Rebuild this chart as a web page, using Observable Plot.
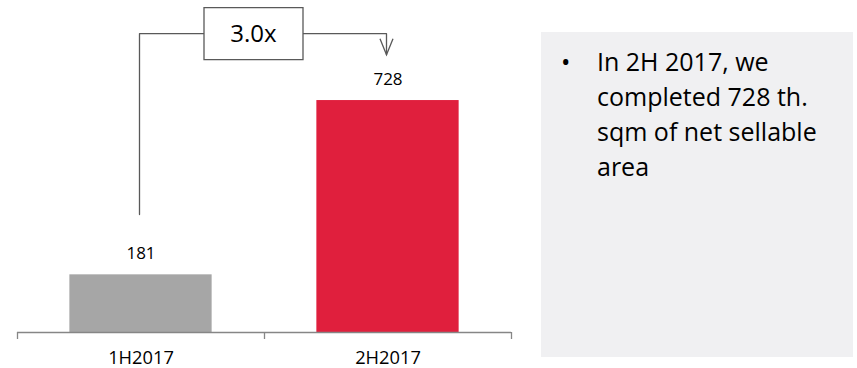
<!DOCTYPE html>
<html>
<head>
<meta charset="utf-8">
<script src="https://cdn.jsdelivr.net/npm/d3@7"></script>
<script src="https://cdn.jsdelivr.net/npm/@observablehq/plot@0.6"></script>
<style>
  html, body { margin: 0; padding: 0; background: #fff; }
  #wrap { position: relative; width: 857px; height: 368px; font-family: "Open Sans", sans-serif; }
  #chart { position: absolute; left: 0; top: 0; }
  #note {
    position: absolute; left: 541px; top: 32px; width: 312px; height: 325px;
    background: #f0f0f2; box-sizing: border-box; padding: 12px 0 0 56px;
    font-size: 25px; line-height: 35px; color: #000;
  }
  #note .bullet { position: absolute; left: 20px; }
  #note .line { white-space: nowrap; }
</style>
</head>
<body>
<div id="wrap">
  <div id="chart"></div>
  <div id="note"></div>
</div>
<script>
// Completed net sellable area, thousand sqm
const periods = ["1H2017", "2H2017"];
const completed = [181, 728];
const barColors = ["#a6a6a6", "#e01f3d"];
const growthLabel = ["3.0x"];
const noteLines = ["In 2H 2017, we", "completed 728 th.", "sqm of net sellable", "area"];

// Heights of the growth bracket on the value axis
const bracketStart = 370;
const bracketTop = 938;
const bracketEnd = 872;

const data = periods.map((p, i) => ({period: p, value: completed[i], color: barColors[i]}));

const W = 520, H = 368;
const mL = 17, mR = 9, mT = 0, mB = 36;
const step = (W - mL - mR) / periods.length;
const axisColor = "#868686";
const lineColor = "#595959";

// Rectangle outline for the growth multiplier label
const boxW = 99, boxH = 52;
const boxSymbol = {
  draw(ctx) {
    ctx.moveTo(-boxW / 2, -boxH / 2);
    ctx.lineTo(boxW / 2, -boxH / 2);
    ctx.lineTo(boxW / 2, boxH / 2);
    ctx.lineTo(-boxW / 2, boxH / 2);
    ctx.closePath();
  }
};

// Open chevron arrowhead, tip at the origin pointing down
const headHalf = 6.5, headLen = 16;
const chevronSymbol = {
  draw(ctx) {
    ctx.moveTo(-headHalf, -headLen);
    ctx.lineTo(0, 0);
    ctx.lineTo(headHalf, -headLen);
  }
};

const bracket = [
  {period: periods[0], value: bracketStart},
  {period: periods[0], value: bracketTop},
  {period: periods[1], value: bracketTop},
  {period: periods[1], value: bracketEnd}
];

const chart = Plot.plot({
  width: W,
  height: H,
  marginLeft: mL,
  marginRight: mR,
  marginTop: mT,
  marginBottom: mB,
  style: {fontFamily: "Open Sans, sans-serif", background: "transparent"},
  x: {domain: periods, paddingInner: 0.424, paddingOuter: 0.212, round: false},
  y: {domain: [0, 1042], axis: null},
  color: {type: "identity"},
  marks: [
    Plot.barY(data, {x: "period", y: "value", fill: "color"}),
    Plot.ruleY([0], {stroke: axisColor, strokeWidth: 1.3}),
    // category boundary ticks below the baseline
    Plot.ruleX(periods, {x: d => d, dx: -step / 2, y1: 0, y2: 0, insetBottom: -7, stroke: axisColor, strokeWidth: 1.3}),
    Plot.ruleX(periods.slice(-1), {x: d => d, dx: step / 2, y1: 0, y2: 0, insetBottom: -7, stroke: axisColor, strokeWidth: 1.3}),
    Plot.axisX({tickSize: 0, tickPadding: 18, fontSize: 18.3, label: null}),
    Plot.text(data, {x: "period", y: "value", text: d => String(d.value), dy: -21, fontSize: 17, fill: "#000"}),
    // growth bracket from the first bar to the second
    Plot.line(bracket, {x: "period", y: "value", dx: -1.5, stroke: lineColor, strokeWidth: 1.3, curve: "linear"}),
    Plot.dot([bracket[bracket.length - 1]], {x: "period", y: "value", dx: -1.5, symbol: chevronSymbol,
      fill: "none", stroke: lineColor, strokeWidth: 1.3}),
    Plot.dot(growthLabel, {x: () => periods[0], y: () => bracketTop, dx: 112.5, symbol: boxSymbol,
      fill: "#fff", stroke: lineColor, strokeWidth: 1.3}),
    Plot.text(growthLabel, {x: () => periods[0], y: () => bracketTop, dx: 112.5, dy: 1, text: d => d, fontSize: 24, fill: "#000"})
  ]
});
document.getElementById("chart").appendChild(chart);

const note = document.getElementById("note");
const bullet = document.createElement("span");
bullet.className = "bullet";
bullet.textContent = "•";
note.appendChild(bullet);
for (const t of noteLines) {
  const d = document.createElement("div");
  d.className = "line";
  d.textContent = t;
  note.appendChild(d);
}
</script>
</body>
</html>
